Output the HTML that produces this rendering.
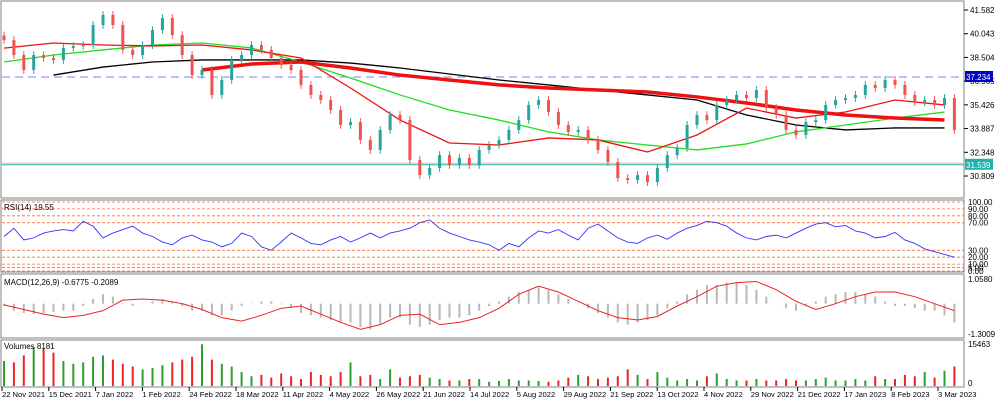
<!DOCTYPE html>
<html><head><meta charset="utf-8"><style>
body{margin:0;background:#fff;font-family:"Liberation Sans",sans-serif;}
svg text{font-family:"Liberation Sans",sans-serif;font-size:8px;fill:#000;}
svg text.d{font-size:7.6px;}
</style></head><body>
<svg id="c" width="1000" height="401" xmlns="http://www.w3.org/2000/svg"></svg>
<script>
const closes=[39.63,38.66,37.69,38.66,38.47,38.34,39.12,39.25,39.31,40.61,41.26,40.61,38.99,38.66,39.31,40.28,41.06,39.96,38.66,37.36,37.69,36.07,37.04,38.34,38.66,39.31,38.99,38.47,38.01,37.69,36.72,36.07,35.74,35.09,34.12,34.31,33.15,32.50,33.80,34.77,34.44,31.85,30.87,31.33,32.17,31.52,31.98,31.52,32.50,32.82,33.15,33.80,34.44,35.42,35.74,34.96,34.12,33.67,33.80,33.15,32.50,31.72,30.68,30.55,30.87,30.42,31.33,32.17,32.63,34.12,34.77,34.44,35.42,35.74,36.07,35.87,36.39,35.22,34.77,33.80,33.47,34.31,34.44,35.42,35.74,35.87,36.07,36.72,36.52,37.04,36.72,36.07,35.61,35.74,35.42,35.87,33.80];
const volumes=[9000,8500,11000,14000,13500,12000,9000,8000,8500,10500,11000,9500,8000,7000,6000,6500,7500,8500,9500,10500,15000,9500,8000,7000,5000,3500,4000,3000,4500,3500,2500,5000,4000,3500,5000,8500,3500,4000,2500,6000,3000,3500,4000,3000,2500,2000,2000,2500,2500,1500,1800,2500,2000,2000,1800,1500,2000,3000,4000,3500,2500,3000,3500,6000,4000,2500,5000,3000,2000,2500,2000,3500,4500,2500,2000,2000,2500,2000,2000,2500,2000,2000,2500,3000,2000,2000,2500,2000,3500,2500,2500,4000,3500,5000,3000,5500,7000];
const rsi=[50,62,45,48,55,58,60,58,72,65,48,55,60,65,55,50,42,38,48,52,45,42,35,40,55,50,35,30,42,55,48,40,38,45,50,42,48,55,48,55,58,62,70,74,62,55,50,45,42,38,30,40,35,48,58,55,60,52,45,62,68,58,48,42,40,48,52,46,55,62,66,72,70,65,55,48,45,50,52,48,55,62,68,70,64,66,58,55,48,50,56,45,40,32,28,24,20];
const macdHist=[-0.1,-0.3,-0.4,-0.45,-0.4,-0.35,-0.3,-0.3,-0.1,0.2,0.4,0.3,0.0,-0.1,0.0,0.1,0.2,0.1,-0.1,-0.3,-0.3,-0.5,-0.5,-0.3,-0.1,0.0,0.1,0.1,0.0,-0.2,-0.4,-0.5,-0.6,-0.7,-0.8,-0.8,-1.0,-1.1,-0.9,-0.6,-0.6,-0.9,-1.0,-0.9,-0.7,-0.6,-0.6,-0.5,-0.3,-0.1,0.1,0.3,0.5,0.6,0.7,0.6,0.4,0.2,0.0,-0.2,-0.4,-0.6,-0.8,-0.9,-0.8,-0.7,-0.5,-0.2,0.1,0.4,0.6,0.8,0.8,0.9,0.9,0.8,0.6,0.3,0.0,-0.2,-0.3,-0.1,0.1,0.3,0.4,0.5,0.5,0.4,0.3,0.1,-0.1,-0.1,-0.2,-0.3,-0.3,-0.5,-0.8];
const macdSignal=[-0.05,-0.25,-0.45,-0.6,-0.5,-0.3,0.15,0.2,0.15,0.0,-0.25,-0.6,-0.75,-0.5,-0.2,-0.1,-0.45,-0.8,-1.1,-0.9,-0.5,-0.45,-0.9,-0.8,-0.6,-0.2,0.4,0.75,0.5,0.1,-0.3,-0.6,-0.7,-0.55,-0.1,0.3,0.75,0.9,0.95,0.6,0.1,-0.25,0.0,0.3,0.5,0.5,0.3,0.0,-0.3];
const maRed=[39.11,39.44,39.31,39.25,39.31,38.99,38.47,36.52,34.44,32.95,32.82,33.28,33.15,32.37,33.47,35.22,34.57,34.96,35.74,35.42];
const maGreen=[38.21,38.66,38.99,39.31,39.44,39.12,38.21,37.17,36.07,35.09,34.44,33.67,33.15,32.82,32.50,32.89,33.67,34.12,34.57,34.96];
const maBlack=[37.36,37.88,38.21,38.34,38.34,38.34,38.14,37.82,37.43,37.04,36.72,36.39,36.07,35.74,34.77,34.12,33.80,33.93,33.93];
const maThick=[37.69,38.08,38.21,37.82,37.36,37.04,36.72,36.52,36.39,36.26,35.94,35.55,35.09,34.77,34.57,34.44];
const priceTicks=[41.582,40.043,38.504,36.965,35.426,33.887,32.348,30.809];
const rsiLevels=[100,90,80,70,30,20,10,5,0];
const rsiLabels=["100.00","90.00","80.00","70.00","30.00","20.00","10.00","5.00","0.00"];
const dateLabels=["22 Nov 2021","15 Dec 2021","7 Jan 2022","1 Feb 2022","24 Feb 2022","18 Mar 2022","11 Apr 2022","4 May 2022","26 May 2022","21 Jun 2022","14 Jul 2022","5 Aug 2022","29 Aug 2022","21 Sep 2022","13 Oct 2022","4 Nov 2022","29 Nov 2022","21 Dec 2022","17 Jan 2023","8 Feb 2023","3 Mar 2023"];
const hLine1=37.234, hLine2=31.539, volMax=15463, macdMax=1.058, macdMin=-1.3009;

const S=document.getElementById('c'),NS='http://www.w3.org/2000/svg';
function el(t,a,p){const e=document.createElementNS(NS,t);for(const k in a)e.setAttribute(k,a[k]);(p||S).appendChild(e);return e;}
const X=i=>4+i*9.9;
const PY=p=>10+(41.582-p)*15.41;
const RY=v=>271-v*0.69;
const MY=v=>279+(macdMax-v)*(55/(macdMax-macdMin));
const VY=v=>386-v/volMax*43;
function txt(x,y,s,name,fill,cls){const t=el('text',{x:x,y:y});t.textContent=s;if(fill)t.setAttribute('style','fill:'+fill);if(cls)t.setAttribute('class',cls);

return t;}
[[1,1,198],[1,200,272],[1,274,338],[1,340,387]].forEach((p,k)=>{const r=el('rect',{x:1,y:p[1],width:963,height:p[2]-p[1],fill:'none',stroke:'#808080'});

});
priceTicks.forEach(v=>{el('line',{x1:964,x2:968,y1:PY(v),y2:PY(v),stroke:'#000'});txt(970,PY(v)+3,v.toFixed(3),'price-tick-label');});
let l=el('line',{x1:2,x2:964,y1:PY(hLine1),y2:PY(hLine1),stroke:'#8080ff','stroke-dasharray':'8,5'});


el('line',{x1:2,x2:964,y1:PY(hLine2)-1.5,y2:PY(hLine2)-1.5,stroke:'#f4b0b0'});
l=el('line',{x1:2,x2:964,y1:PY(hLine2),y2:PY(hLine2),stroke:'#20b2aa'});


function ma(arr,start,step,color,w,name){const pts=arr.map((v,j)=>X(Math.min(start+j*step,closes.length-1))+','+PY(v)).join(' ');
const p=el('polyline',{points:pts,fill:'none',stroke:color,'stroke-width':w});

}
ma(maBlack,5,5,'#000',1.3,'ma-black');
ma(maGreen,0,5,'#22dd22',1.3,'ma-green');
ma(maRed,0,5,'#ee1111',1.3,'ma-red');
ma(maThick,20,5,'#ee1111',3.5,'ma-red-thick');
closes.forEach((c,i)=>{const o=i?closes[i-1]:c+0.3;const up=c>=o;const col=up?'#26a69a':'#ef5350';
const hi=Math.max(o,c)+0.25,lo=Math.min(o,c)-0.25;
el('line',{x1:X(i),x2:X(i),y1:PY(hi),y2:PY(lo),stroke:col});
const r=el('rect',{x:X(i)-1.5,y:PY(Math.max(o,c)),width:3,height:Math.max(1,Math.abs(PY(o)-PY(c))),fill:col});

});
let b=el('rect',{x:965,y:PY(hLine1)-6,width:28,height:11,fill:'#0000cc'});


txt(966,PY(hLine1)+3,hLine1.toFixed(3),'last-price-label','#fff');
b=el('rect',{x:965,y:PY(hLine2)-6,width:28,height:11,fill:'#20b2aa'});


txt(966,PY(hLine2)+3,hLine2.toFixed(3),'support-price-label','#fff');
rsiLevels.forEach((v,k)=>{el('line',{x1:2,x2:964,y1:RY(v),y2:RY(v),stroke:'#ff6a30','stroke-dasharray':'3,2','stroke-width':0.8});
txt(968,RY(v)+3,rsiLabels[k],'rsi-tick-label');});
let p=el('polyline',{points:rsi.map((v,i)=>X(i)+','+RY(v)).join(' '),fill:'none',stroke:'#3333ff','stroke-width':0.9});


txt(4,210,'RSI(14) 19.55','rsi-title');
macdHist.forEach((v,i)=>{const r=el('rect',{x:X(i)-1,y:Math.min(MY(0),MY(v)),width:2,height:Math.abs(MY(v)-MY(0))||0.5,fill:'#b8b8b8'});

});
p=el('polyline',{points:macdSignal.map((v,j)=>X(Math.min(j*2,closes.length-1))+','+MY(v)).join(' '),fill:'none',stroke:'#ee2222','stroke-width':1});


txt(4,285,'MACD(12,26,9) -0.6775 -0.2089','macd-title');
txt(968,282,'1.0580','macd-max-label');txt(968,337,'-1.3009','macd-min-label');
volumes.forEach((v,i)=>{const up=i?closes[i]>=closes[i-1]:true;const r=el('rect',{x:X(i)-1,y:VY(v),width:2,height:386-VY(v),fill:up?'#2ca02c':'#ee2222'});

});
txt(4,349,'Volumes 8181','volume-title');
txt(968,347,'15463','volume-max-label');txt(968,386,'0','volume-zero-label');
dateLabels.forEach((d,k)=>{const x=2+k*46.8;el('line',{x1:x,x2:x,y1:387,y2:391,stroke:'#000'});txt(x,397,d,'date-label',null,'d');});
</script>
</body></html>
